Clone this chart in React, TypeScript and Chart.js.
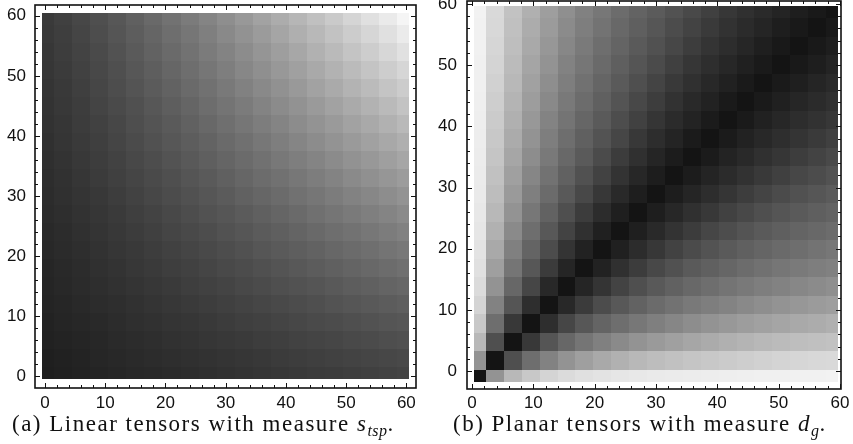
import React, { useEffect, useRef } from "react";
import { Chart, registerables } from "chart.js";

Chart.register(...registerables);

// sample positions of the gray-level readings (both axes), and labelled ticks
const SAMPLE_POS = [0, 3, 6, 9, 12, 15, 18, 21, 24, 27, 30, 33, 36, 39, 42, 45, 48, 51, 54, 57, 60];
const AXIS_TICKS = [0, 10, 20, 30, 40, 50, 60];
const MINOR_TICKS = [0, 2, 4, 6, 8, 10, 12, 14, 16, 18, 20, 22, 24, 26, 28, 30, 32, 34, 36, 38, 40, 42, 44, 46, 48, 50, 52, 54, 56, 58, 60];

// (a) Linear tensors, measure s_tsp — gray level (0 black .. 255 white); rows y = 0 .. 60, columns x = 0 .. 60
const linearStspGray = [
  [30, 32, 34, 36, 38, 40, 41, 43, 45, 47, 49, 51, 53, 55, 57, 59, 60, 62, 64, 66, 68],
  [31, 33, 35, 38, 40, 42, 44, 46, 48, 50, 52, 54, 56, 59, 61, 63, 65, 67, 69, 71, 73],
  [33, 35, 37, 39, 42, 44, 46, 49, 51, 54, 56, 58, 61, 63, 66, 68, 70, 73, 75, 78, 80],
  [34, 37, 39, 41, 44, 47, 49, 52, 54, 57, 60, 63, 65, 68, 71, 74, 76, 79, 82, 85, 87],
  [36, 38, 41, 44, 46, 49, 52, 55, 58, 61, 64, 67, 70, 73, 76, 79, 83, 86, 89, 92, 95],
  [37, 40, 43, 46, 49, 52, 55, 58, 62, 65, 68, 72, 75, 79, 82, 85, 89, 93, 96, 100, 103],
  [38, 41, 44, 48, 51, 55, 58, 62, 65, 69, 73, 76, 80, 84, 88, 92, 96, 100, 104, 108, 112],
  [40, 43, 46, 50, 54, 57, 61, 65, 69, 73, 77, 81, 86, 90, 94, 98, 103, 107, 111, 116, 120],
  [41, 44, 48, 52, 56, 60, 64, 69, 73, 77, 82, 86, 91, 95, 100, 105, 110, 114, 119, 124, 129],
  [43, 46, 50, 54, 58, 63, 67, 72, 77, 82, 86, 91, 96, 101, 106, 112, 117, 122, 127, 132, 138],
  [44, 48, 52, 56, 61, 66, 71, 76, 81, 86, 91, 97, 102, 107, 113, 118, 124, 130, 135, 141, 147],
  [45, 49, 54, 59, 64, 69, 74, 79, 85, 90, 96, 102, 108, 113, 119, 125, 131, 138, 144, 150, 156],
  [47, 51, 56, 61, 66, 72, 77, 83, 89, 95, 101, 107, 113, 120, 126, 132, 139, 146, 152, 159, 166],
  [48, 53, 58, 63, 69, 75, 81, 87, 93, 99, 106, 112, 119, 126, 133, 140, 147, 154, 161, 168, 175],
  [50, 54, 60, 65, 71, 78, 84, 90, 97, 104, 111, 118, 125, 132, 140, 147, 154, 162, 169, 177, 185],
  [51, 56, 61, 68, 74, 80, 87, 94, 101, 109, 116, 123, 131, 139, 146, 154, 162, 170, 178, 186, 195],
  [52, 57, 63, 70, 77, 84, 91, 98, 106, 113, 121, 129, 137, 145, 153, 162, 170, 179, 187, 196, 204],
  [54, 59, 65, 72, 79, 87, 94, 102, 110, 118, 126, 135, 143, 152, 160, 169, 178, 187, 196, 205, 214],
  [55, 61, 67, 74, 82, 90, 98, 106, 114, 123, 131, 140, 149, 158, 167, 177, 186, 196, 205, 215, 225],
  [57, 62, 69, 77, 85, 93, 101, 110, 118, 127, 137, 146, 155, 165, 175, 184, 194, 204, 214, 224, 235],
  [58, 64, 71, 79, 87, 96, 105, 114, 123, 132, 142, 152, 162, 172, 182, 192, 202, 213, 224, 234, 245],
];

// (b) Planar tensors, measure d_g — gray level; the matrix is symmetric, so only the
// lower triangle is listed: row k holds the cells (x = SAMPLE_POS[m], y = SAMPLE_POS[k]) for m = 0 .. k
const planarDgLowerTriangle = [
  [20],
  [147, 20],
  [184, 79, 20],
  [200, 110, 56, 20],
  [212, 130, 85, 46, 20],
  [219, 147, 103, 70, 40, 20],
  [224, 159, 117, 87, 59, 37, 20],
  [227, 169, 128, 100, 76, 52, 34, 20],
  [230, 177, 138, 110, 88, 67, 48, 32, 20],
  [232, 184, 147, 119, 98, 79, 60, 44, 31, 20],
  [234, 189, 154, 127, 107, 89, 72, 55, 41, 30, 20],
  [235, 193, 160, 134, 114, 97, 81, 66, 51, 39, 29, 20],
  [236, 197, 166, 141, 121, 104, 90, 75, 60, 48, 37, 28, 20],
  [237, 200, 171, 147, 126, 110, 96, 83, 70, 56, 45, 36, 27, 20],
  [238, 203, 176, 152, 131, 116, 102, 90, 77, 65, 53, 43, 35, 27, 20],
  [239, 206, 180, 157, 137, 121, 108, 96, 84, 72, 61, 50, 41, 34, 26, 20],
  [240, 209, 184, 161, 142, 126, 113, 101, 90, 79, 68, 57, 48, 40, 33, 26, 20],
  [240, 212, 187, 165, 147, 130, 118, 106, 95, 85, 75, 64, 54, 46, 39, 32, 26, 20],
  [241, 214, 190, 169, 151, 135, 122, 110, 100, 90, 81, 71, 61, 52, 45, 38, 31, 25, 20],
  [241, 216, 192, 172, 155, 139, 126, 115, 104, 95, 86, 76, 67, 58, 50, 43, 37, 30, 25, 20],
  [242, 217, 194, 176, 158, 143, 129, 119, 108, 99, 91, 82, 73, 64, 55, 48, 42, 36, 30, 25, 20],
];

// full table for panel (b), mirrored from the listed triangle
const planarDgGray = SAMPLE_POS.map((_, row) =>
  SAMPLE_POS.map((__, col) =>
    col <= row ? planarDgLowerTriangle[row][col] : planarDgLowerTriangle[col][row]
  )
);

const TICK_FONT = { family: "'Liberation Sans', Arial, Helvetica, sans-serif", size: 17 };

type PanelProps = {
  gray: number[][];
  left: number;
  width: number;
  height: number;
  padTop: number;
  padRight: number;
  yAxisWidth: number;
  xAxisHeight: number;
  xRange: [number, number];
  yRange: [number, number];
  cellX: [number, number];
  cellY: [number, number];
  xPad: number;
  yPad: number;
};

function HeatPanel(p: PanelProps) {
  const ref = useRef<HTMLCanvasElement | null>(null);

  useEffect(() => {
    const canvas = ref.current;
    if (!canvas) return;

    const points: { x: number; y: number; v: number }[] = [];
    p.gray.forEach((row, j) =>
      row.forEach((v, i) => points.push({ x: SAMPLE_POS[i], y: SAMPLE_POS[j], v }))
    );

    const lo = SAMPLE_POS[0] - 0.5;
    const hi = SAMPLE_POS[SAMPLE_POS.length - 1] + 0.5;
    const edgeLow = (k: number) => (k === 0 ? lo : (SAMPLE_POS[k - 1] + SAMPLE_POS[k]) / 2);
    const edgeHigh = (k: number) =>
      k === SAMPLE_POS.length - 1 ? hi : (SAMPLE_POS[k] + SAMPLE_POS[k + 1]) / 2;
    const mapX = (u: number) => p.cellX[0] + ((u - lo) / (hi - lo)) * (p.cellX[1] - p.cellX[0]);
    const mapY = (u: number) => p.cellY[0] + ((u - lo) / (hi - lo)) * (p.cellY[1] - p.cellY[0]);

    const heatPlugin = {
      id: "heatCells",
      beforeDatasetsDraw(chart: any) {
        const { ctx, scales } = chart;
        const xs = scales.x;
        const ys = scales.y;
        const data = chart.data.datasets[0].data as any[];
        ctx.save();
        for (const d of data) {
          const ki = SAMPLE_POS.indexOf(d.x);
          const kj = SAMPLE_POS.indexOf(d.y);
          const x0 = Math.round(xs.getPixelForValue(mapX(edgeLow(ki))));
          const x1 = Math.round(xs.getPixelForValue(mapX(edgeHigh(ki))));
          const y0 = Math.round(ys.getPixelForValue(mapY(edgeHigh(kj))));
          const y1 = Math.round(ys.getPixelForValue(mapY(edgeLow(kj))));
          ctx.fillStyle = `rgb(${d.v},${d.v},${d.v})`;
          ctx.fillRect(x0, y0, x1 - x0, y1 - y0);
        }
        ctx.restore();
      },
    };

    const framePlugin = {
      id: "frameTicks",
      afterDraw(chart: any) {
        const { ctx, chartArea, scales } = chart;
        const { left, right, top, bottom } = chartArea;
        ctx.save();
        ctx.strokeStyle = "#111";
        ctx.lineWidth = 1.6;
        ctx.strokeRect(left, top, right - left, bottom - top);
        ctx.lineWidth = 1;
        ctx.beginPath();
        for (const v of MINOR_TICKS) {
          const len = v % 10 === 0 ? 5 : 3;
          const px = Math.round(scales.x.getPixelForValue(v)) + 0.5;
          ctx.moveTo(px, bottom);
          ctx.lineTo(px, bottom - len);
          ctx.moveTo(px, top);
          ctx.lineTo(px, top + len);
          const py = Math.round(scales.y.getPixelForValue(v)) + 0.5;
          ctx.moveTo(left, py);
          ctx.lineTo(left + len, py);
          ctx.moveTo(right, py);
          ctx.lineTo(right - len, py);
        }
        ctx.stroke();
        ctx.restore();
      },
    };

    const zeroPad = (s: any) => {
      s.paddingTop = 0;
      s.paddingBottom = 0;
      s.paddingLeft = 0;
      s.paddingRight = 0;
    };

    const chart = new Chart(canvas, {
      type: "scatter",
      data: { datasets: [{ data: points as any, pointRadius: 0, pointHoverRadius: 0 }] },
      options: {
        responsive: false,
        maintainAspectRatio: false,
        animation: false,
        events: [],
        layout: { padding: { left: 0, top: p.padTop, right: p.padRight, bottom: 0 } },
        plugins: { legend: { display: false }, tooltip: { enabled: false } },
        scales: {
          x: {
            type: "linear",
            min: p.xRange[0],
            max: p.xRange[1],
            grid: { display: false, drawTicks: false },
            border: { display: false },
            ticks: { padding: p.xPad, font: TICK_FONT, color: "#111", maxRotation: 0, autoSkip: false },
            afterBuildTicks: (s: any) => {
              s.ticks = AXIS_TICKS.map((value) => ({ value }));
            },
            afterFit: (s: any) => {
              s.height = p.xAxisHeight;
              zeroPad(s);
            },
          },
          y: {
            type: "linear",
            min: p.yRange[0],
            max: p.yRange[1],
            grid: { display: false, drawTicks: false },
            border: { display: false },
            ticks: { padding: p.yPad, font: TICK_FONT, color: "#111", autoSkip: false },
            afterBuildTicks: (s: any) => {
              s.ticks = AXIS_TICKS.map((value) => ({ value }));
            },
            afterFit: (s: any) => {
              s.width = p.yAxisWidth;
              zeroPad(s);
            },
          },
        },
      },
      plugins: [heatPlugin, framePlugin],
    });
    return () => chart.destroy();
  }, []);

  return (
    <canvas
      ref={ref}
      width={p.width}
      height={p.height}
      style={{ position: "absolute", left: p.left, top: 0, width: p.width, height: p.height }}
    />
  );
}

const captionStyle: React.CSSProperties = {
  position: "absolute",
  top: 412,
  fontFamily: "'Liberation Serif', 'Times New Roman', serif",
  fontSize: 23,
  lineHeight: 1,
  letterSpacing: "1.5px",
  color: "#111",
  whiteSpace: "nowrap",
  zIndex: 2,
};

const subStyle: React.CSSProperties = {
  fontStyle: "italic",
  fontSize: 16,
  position: "relative",
  top: 5,
  letterSpacing: "0.5px",
};

export default function App() {
  return (
    <div style={{ position: "absolute", left: 0, top: 0, width: 853, height: 444, background: "#fff", overflow: "hidden" }}>
      <HeatPanel
        gray={linearStspGray}
        left={0}
        width={430}
        height={415}
        padTop={5}
        padRight={14}
        yAxisWidth={35}
        xAxisHeight={27}
        xRange={[-1.66, 61.6]}
        yRange={[-2.0, 61.8]}
        cellX={[-0.5, 60.5]}
        cellY={[-0.5, 60.5]}
        xPad={5}
        yPad={9}
      />
      <HeatPanel
        gray={planarDgGray}
        left={430}
        width={423}
        height={415}
        padTop={1}
        padRight={12}
        yAxisWidth={37}
        xAxisHeight={26}
        xRange={[-0.82, 60.17]}
        yRange={[-2.94, 60.49]}
        cellX={[0.33, 59.68]}
        cellY={[-1.8, 59.67]}
        xPad={4}
        yPad={10}
      />
      <div style={{ ...captionStyle, left: 12 }}>
        (a) Linear tensors with measure <i>s</i>
        <span style={subStyle}>tsp</span>.
      </div>
      <div style={{ ...captionStyle, left: 453 }}>
        (b) Planar tensors with measure <i>d</i>
        <span style={subStyle}>g</span>.
      </div>
    </div>
  );
}
